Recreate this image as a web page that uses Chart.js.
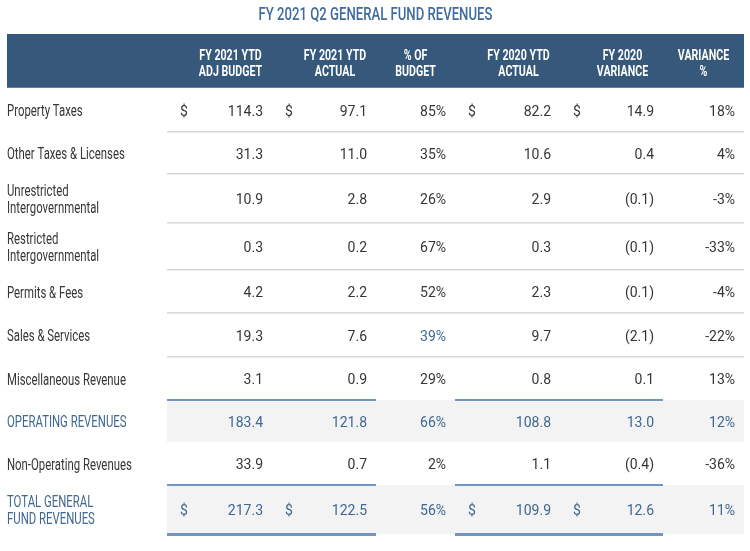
<!DOCTYPE html>
<html>
<head>
<meta charset="utf-8">
<script src="https://cdn.jsdelivr.net/npm/chart.js@4.4.1/dist/chart.umd.min.js"></script>
<style>
  html, body { margin: 0; padding: 0; background: #ffffff; }
  #wrap { width: 750px; height: 551px; position: relative; }
</style>
</head>
<body>
<div id="wrap"><canvas id="c"></canvas></div>
<script>
// ---------------- DATA ----------------
const chartTitle = 'FY 2021 Q2 GENERAL FUND REVENUES';
const categories = [
  ['Property Taxes'],
  ['Other Taxes & Licenses'],
  ['Unrestricted', 'Intergovernmental'],
  ['Restricted', 'Intergovernmental'],
  ['Permits & Fees'],
  ['Sales & Services'],
  ['Miscellaneous Revenue'],
  ['OPERATING REVENUES'],
  ['Non-Operating Revenues'],
  ['TOTAL GENERAL', 'FUND REVENUES']
];
const columnHeaders = [
  ['FY 2021 YTD', 'ADJ BUDGET'],
  ['FY 2021 YTD', 'ACTUAL'],
  ['% OF', 'BUDGET'],
  ['FY 2020 YTD', 'ACTUAL'],
  ['FY 2020', 'VARIANCE'],
  ['VARIANCE', '%']
];
const adjBudget2021   = [114.3, 31.3, 10.9, 0.3, 4.2, 19.3, 3.1, 183.4, 33.9, 217.3];
const ytdActual2021   = [97.1, 11.0, 2.8, 0.2, 2.2, 7.6, 0.9, 121.8, 0.7, 122.5];
const pctOfBudget     = [85, 35, 26, 67, 52, 39, 29, 66, 2, 56];
const ytdActual2020   = [82.2, 10.6, 2.9, 0.3, 2.3, 9.7, 0.8, 108.8, 1.1, 109.9];
const variance2020    = [14.9, 0.4, -0.1, -0.1, -0.1, -2.1, 0.1, 13.0, -0.4, 12.6];
const variancePct     = [18, 4, -3, -33, -4, -22, 13, 12, -36, 11];

// ---------------- LAYOUT / STYLE ----------------
const columnSeries = [adjBudget2021, ytdActual2021, pctOfBudget, ytdActual2020, variance2020, variancePct];
const columnKinds  = ['money', 'money', 'pct', 'money', 'money', 'pct'];
const colWidths  = [160, 105, 104, 79, 105, 103, 81];      // label col + 6 data cols (layout units)
const rowHeights = [54, 44, 42, 49, 47, 43, 44, 43, 42, 43, 49]; // header + 10 rows (layout units)
const dollarRows = [0, 9];
const subtotalRows = [7];
const totalRows = [9];
const blueRuleCols = [[0, 1], [3, 4]];   // data column spans carrying the blue rules
const highlightCells = [[5, 2]];         // [row, col] drawn in accent blue

const colEdges = [0];
colWidths.forEach(w => colEdges.push(colEdges[colEdges.length - 1] + w));
const rowEdges = [0];
rowHeights.forEach(h => rowEdges.push(rowEdges[rowEdges.length - 1] + h));
const rowCenter = r => (rowEdges[r] + rowEdges[r + 1]) / 2;

const COL = {
  title: '#3f6c9c',
  headerBg: '#35587b',
  headerLine: '#5f7f9f',
  text: '#363636',
  blueText: '#3f6792',
  sep: '#d8d8d8',
  blueRule: '#6f97c1',
  band: '#f3f3f3'
};
const SQ = 0.78; // horizontal condensation for the narrow face

function fmtMoney(v) {
  const s = Math.abs(v).toFixed(1);
  return v < 0 ? '(' + s + ')' : s;
}
function fmtPct(v) { return v + '%'; }

function narrowText(ctx, text, x, y, align, factor) {
  ctx.save();
  ctx.translate(x, y);
  ctx.scale(factor, 1);
  ctx.textAlign = align;
  ctx.fillText(text, 0, 0);
  ctx.restore();
}

// datasets: one per data column, each point sits at its cell's right edge / row centre
const datasets = columnSeries.map((series, c) => ({
  label: columnHeaders[c].join(' '),
  data: series.map((v, i) => ({ x: colEdges[c + 2], y: rowCenter(i + 1), v: v })),
  pointRadius: 0,
  pointHoverRadius: 0,
  showLine: false
}));

const tablePlugin = {
  id: 'tablePlugin',
  beforeDatasetsDraw(chart) {
    const ctx = chart.ctx;
    const xs = chart.scales.x, ys = chart.scales.y;
    const X = v => xs.getPixelForValue(v);
    const Y = v => ys.getPixelForValue(v);
    ctx.save();
    // header band
    ctx.fillStyle = COL.headerBg;
    ctx.fillRect(X(colEdges[0]), Y(rowEdges[0]), X(colEdges[7]) - X(colEdges[0]), Y(rowEdges[1]) - Y(rowEdges[0]));
    ctx.fillStyle = COL.headerLine;
    ctx.fillRect(X(colEdges[0]), Y(rowEdges[1]) - 1, X(colEdges[7]) - X(colEdges[0]), 1);

    // body rows
    for (let i = 0; i < categories.length; i++) {
      const r = i + 1;
      const top = Y(rowEdges[r]), bot = Y(rowEdges[r + 1]);
      const banded = subtotalRows.includes(i) || totalRows.includes(i);
      if (banded) {
        ctx.fillStyle = COL.band;
        ctx.fillRect(X(colEdges[1]), top, X(colEdges[7]) - X(colEdges[1]), bot - top);
        ctx.fillStyle = COL.blueRule;
        blueRuleCols.forEach(([a, b]) => {
          const x0 = X(colEdges[a + 1]), x1 = X(colEdges[b + 2]);
          ctx.fillRect(x0, top - 1, x1 - x0, 2);
          if (totalRows.includes(i)) ctx.fillRect(x0, bot - 1, x1 - x0, 3);
        });
      } else {
        const nextBanded = subtotalRows.includes(i + 1) || totalRows.includes(i + 1);
        if (!nextBanded && i < categories.length - 1) {
          ctx.fillStyle = COL.sep;
          ctx.fillRect(X(colEdges[1]), bot - 1, X(colEdges[7]) - X(colEdges[1]), 1.5);
        }
      }
    }
    ctx.restore();
  },
  afterDatasetsDraw(chart) {
    const ctx = chart.ctx;
    const xs = chart.scales.x, ys = chart.scales.y;
    const X = v => xs.getPixelForValue(v);
    const Y = v => ys.getPixelForValue(v);
    ctx.save();
    ctx.textBaseline = 'middle';

    // title
    ctx.fillStyle = COL.title;
    ctx.font = '500 18px Roboto';
    narrowText(ctx, chartTitle, (X(colEdges[0]) + X(colEdges[7])) / 2, 15, 'center', 0.73);

    // header labels
    ctx.fillStyle = '#ffffff';
    ctx.font = 'bold 14px Roboto';
    const hc = (Y(rowEdges[0]) + Y(rowEdges[1])) / 2 + 3;
    columnHeaders.forEach((lines, c) => {
      let left = X(colEdges[c + 1]);
      const right = X(colEdges[c + 2]);
      if (columnKinds[c] === 'money') left += 22;
      const cx = (left + right) / 2;
      lines.forEach((t, k) => narrowText(ctx, t, cx, hc - 8 + k * 16, 'center', 0.76));
    });

    // row labels
    categories.forEach((lines, i) => {
      const blue = subtotalRows.includes(i) || totalRows.includes(i);
      ctx.fillStyle = blue ? COL.blueText : COL.text;
      ctx.font = '16px Roboto';
      const cy = Y(rowCenter(i + 1)) + 2;
      const n = lines.length;
      lines.forEach((t, k) => narrowText(ctx, t, X(colEdges[0]), cy + (k - (n - 1) / 2) * 17, 'left', 0.71));
    });

    // values via dataset elements
    ctx.font = '14px Roboto';
    chart.data.datasets.forEach((ds, c) => {
      const meta = chart.getDatasetMeta(c);
      meta.data.forEach((el, i) => {
        const v = ds.data[i].v;
        const blue = subtotalRows.includes(i) || totalRows.includes(i) ||
          highlightCells.some(([r, cc]) => r === i && cc === c);
        ctx.fillStyle = blue ? COL.blueText : COL.text;
        const txt = columnKinds[c] === 'money' ? fmtMoney(v) : fmtPct(v);
        ctx.textAlign = 'right';
        ctx.fillText(txt, el.x - 9, el.y + 2);
        if (columnKinds[c] === 'money' && dollarRows.includes(i)) {
          ctx.textAlign = 'left';
          ctx.fillText('$', X(colEdges[c + 1]) + 13, el.y + 2);
        }
      });
    });
    ctx.restore();
  }
};

new Chart(document.getElementById('c'), {
  type: 'scatter',
  data: { datasets },
  options: {
    responsive: true,
    maintainAspectRatio: false,
    animation: false,
    layout: { padding: { left: 7, right: 6, top: 34, bottom: 17 } },
    plugins: { legend: { display: false }, tooltip: { enabled: false }, title: { display: false } },
    events: [],
    scales: {
      x: { type: 'linear', min: colEdges[0], max: colEdges[colEdges.length - 1], display: false },
      y: { type: 'linear', min: rowEdges[0], max: rowEdges[rowEdges.length - 1], reverse: true, display: false }
    }
  },
  plugins: [tablePlugin]
});
</script>
</body>
</html>
